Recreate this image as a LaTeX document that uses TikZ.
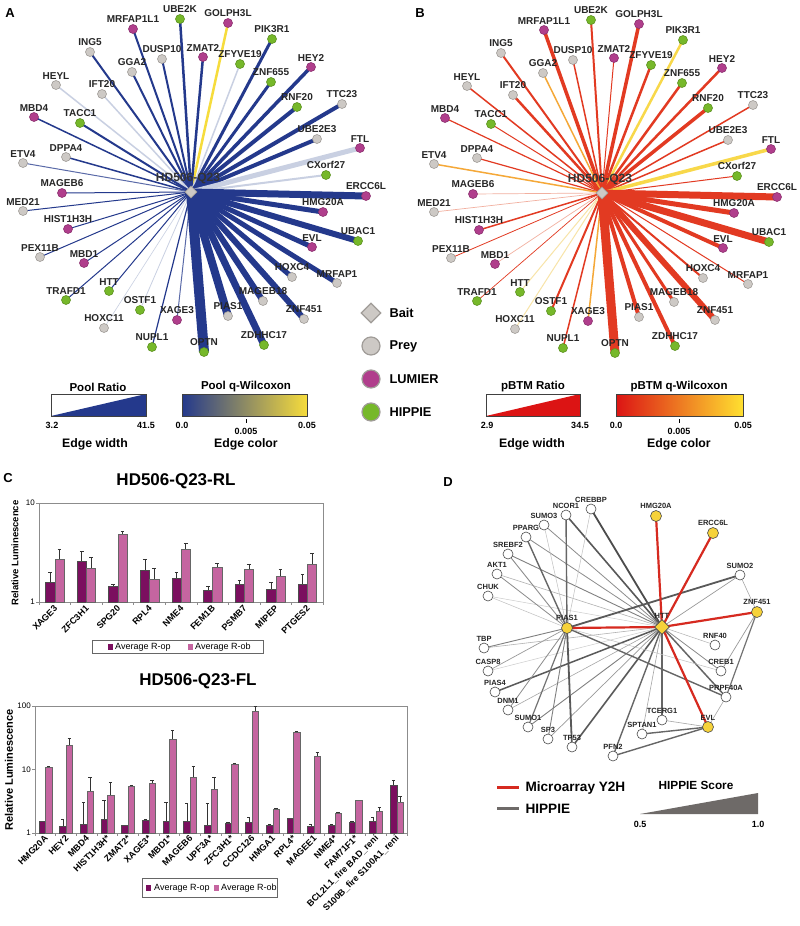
\documentclass[tikz,border=0pt]{standalone}
\usepackage{fontspec}
\setmainfont{Liberation Sans}
\usetikzlibrary{positioning,backgrounds,shapes.geometric}

\definecolor{ablue}{HTML}{24398C}
\definecolor{alight}{HTML}{C9D0E2}
\definecolor{amid}{HTML}{5A6AA8}
\definecolor{ayel}{HTML}{F6DC3C}
\definecolor{afade}{HTML}{DCE6EE}
\definecolor{bred}{HTML}{E23A22}
\definecolor{borng}{HTML}{F5A838}
\definecolor{byel}{HTML}{F8D84A}
\definecolor{bpale}{HTML}{F2B0A0}
\definecolor{byelp}{HTML}{F8E4A8}
\definecolor{gradred}{HTML}{DC1414}
\definecolor{gradorng}{HTML}{F59A10}
\definecolor{gradyel}{HTML}{FFE030}
\definecolor{preygrey}{HTML}{CDC9C5}
\definecolor{preyline}{HTML}{A09C98}
\definecolor{lumier}{HTML}{B03E8C}
\definecolor{hippie}{HTML}{76B82A}
\definecolor{opdark}{HTML}{7B0F5F}
\definecolor{obpink}{HTML}{C565A0}
\definecolor{dyellow}{HTML}{F6D23A}
\definecolor{y2hred}{HTML}{D62A20}
\definecolor{scoregrey}{HTML}{6E6A68}

\tikzset{
  nprey/.style={circle, draw=preyline, fill=preygrey, line width=0.6pt, minimum size=9pt, inner sep=0pt},
  nlum/.style={nprey, fill=lumier, draw=lumier!80!black},
  nhip/.style={nprey, fill=hippie, draw=hippie!80!black},
  nbait/.style={diamond, draw=preyline, fill=preygrey, line width=0.6pt, minimum size=12pt, inner sep=0pt},
  lbl/.style={font=\bfseries\fontsize{10}{11}\selectfont, text=black!85, inner sep=1pt},
  baitlbl/.style={font=\bfseries\fontsize{12}{13}\selectfont, text=black!80},
  panel/.style={font=\bfseries\fontsize{13}{14}\selectfont},
  legtxt/.style={font=\bfseries\fontsize{12.8}{14}\selectfont, anchor=west},
  cbtitle/.style={font=\bfseries\fontsize{11.5}{13}\selectfont},
  cbcap/.style={font=\bfseries\fontsize{12.3}{14}\selectfont},
  cbtick/.style={font=\bfseries\fontsize{9}{10}\selectfont, inner sep=1pt},
  cbframe/.style={draw=black!75, line width=0.7pt},
  ctitle/.style={font=\bfseries\fontsize{17}{19}\selectfont},
  chartframe/.style={draw=black!45, line width=0.6pt},
  ytitle/.style={font=\bfseries\fontsize{9.5}{11}\selectfont, rotate=90},
  yticklbl/.style={font=\fontsize{8}{9}\selectfont, anchor=east, inner sep=1pt},
  catlbl/.style={font=\bfseries\fontsize{9}{10}\selectfont, rotate=45, anchor=east, inner sep=0pt},
  barop/.style={fill=opdark, draw=black!70, line width=0.3pt},
  barob/.style={fill=obpink, draw=black!60, line width=0.3pt},
  errbar/.style={draw=black!80, line width=0.5pt},
  legbox/.style={draw=black!60, line width=0.5pt},
  legsmall/.style={font=\fontsize{9}{10}\selectfont, anchor=west, inner sep=0pt},
  dprey/.style={circle, draw=black!70, fill=white, line width=0.6pt, minimum size=10pt, inner sep=0pt},
  dhit/.style={circle, draw=black!70, fill=dyellow, line width=0.6pt, minimum size=11pt, inner sep=0pt},
  dhtt/.style={diamond, draw=black!70, fill=dyellow, line width=0.6pt, minimum size=15pt, inner sep=0pt},
  dlbl/.style={font=\bfseries\fontsize{7.5}{8}\selectfont, text=black!85, inner sep=1pt},
  y2hlink/.style={draw=y2hred, line width=2.2pt},
}

% name/x/y/type/pool width/pool colour/pBTM width/pBTM colour
\def\preylist{UBE2K/180/19/nhip/2.5/ablue/2/bred,
  GOLPH3L/228/23/nlum/2.5/ayel/3.5/bred,
  MRFAP1L1/133/29/nlum/2/ablue/3.5/bred,
  PIK3R1/272/39/nhip/3/ablue/2.5/byel,
  ING5/90/52/nprey/2/ablue/2/bred,
  DUSP10/162/59/nprey/2/ablue/1.5/bred,
  ZMAT2/203/57/nlum/2.5/ablue/1/bred,
  ZFYVE19/240/64/nhip/1.5/alight/2.5/bred,
  HEY2/311/67/nlum/3.5/ablue/2.5/bred,
  GGA2/132/72/nprey/2/ablue/1.5/borng,
  HEYL/56/85/nprey/1.5/alight/1.5/bred,
  IFT20/102/94/nprey/1.5/alight/2.5/bred,
  ZNF655/271/82/nhip/3/ablue/2.5/bred,
  RNF20/297/107/nhip/4/ablue/3.5/bred,
  TTC23/342/104/nprey/4/ablue/1.5/bred,
  MBD4/34/117/nlum/1.5/ablue/1.2/bred,
  TACC1/80/123/nhip/2/ablue/1/bred,
  UBE2E3/317/139/nprey/4/ablue/1.5/bred,
  FTL/360/148/nlum/5/alight/3.5/byel,
  DPPA4/66/157/nprey/1.5/ablue/1.2/bred,
  ETV4/23/163/nprey/1/amid/1.5/borng,
  CXorf27/326/175/nhip/2/alight/1/bred,
  MAGEB6/62/193/nlum/1/ablue/0.7/bpale,
  ERCC6L/366/196/nlum/7/ablue/7/bred,
  MED21/23/211/nprey/1/ablue/0.7/bpale,
  HMG20A/323/212/nlum/5/ablue/5/bred,
  HIST1H3H/68/229/nlum/1/ablue/1.5/bred,
  UBAC1/358/241/nhip/6/ablue/7/bred,
  EVL/312/247/nlum/5/ablue/4/bred,
  PEX11B/40/257/nprey/1/ablue/0.8/bred,
  MBD1/84/263/nlum/1/ablue/0.7/bpale,
  HOXC4/292/277/nprey/5/ablue/2/bred,
  MRFAP1/337/283/nprey/5/ablue/1/bred,
  HTT/109/291/nhip/1/ablue/1/byelp,
  TRAFD1/66/300/nhip/1/ablue/0.7/bred,
  MAGEB18/263/301/nprey/6/ablue/3/bred,
  OSTF1/140/310/nhip/0.8/alight/2/bred,
  XAGE3/177/320/nlum/1/amid/1.5/borng,
  PIAS1/228/316/nprey/8/ablue/4/bred,
  ZNF451/304/319/nprey/6/ablue/6/bred,
  HOXC11/104/328/nprey/0.6/alight/1/byelp,
  NUPL1/152/347/nhip/1.2/ablue/1.5/bred,
  OPTN/204/352/nhip/10/ablue/9/bred,
  ZDHHC17/264/345/nhip/7/ablue/4/bred}

\begin{document}
\begin{tikzpicture}[x=1pt,y=-1pt]
\useasboundingbox (0,0) rectangle (800,926);
\begin{scope}[on background layer]
  \fill[white] (0,0) rectangle (800,926);
\end{scope}

\node[panel] (pA) at (10,13) {A};
\node[panel] (pB) at (420,13) {B};
\node[panel] (pC) at (8,478) {C};
\node[panel] (pD) at (448,482) {D};

% ---- A: pool network
\node[nbait] (A-c) at (191,192) {};
\node[baitlbl] (A-t) at (188,178) {HD506-Q23};
\foreach \nm/\x/\y/\ty/\aw/\ac/\bw/\bc in \preylist {
  \node[\ty, label={[lbl]above:\nm}] (A-\nm) at (\x,\y) {};
}
\begin{scope}[on background layer]
\foreach \nm/\x/\y/\ty/\aw/\ac/\bw/\bc in \preylist {
  \draw[line width=\aw pt, draw=\ac] (A-c.center) -- (A-\nm.center);
}
\end{scope}

% ---- B: pBTM network
\begin{scope}[shift={(411,1)}]
\node[nbait] (B-c) at (191,192) {};
\node[baitlbl] (B-t) at (189,178) {HD506-Q23};
\foreach \nm/\x/\y/\ty/\aw/\ac/\bw/\bc in \preylist {
  \node[\ty, label={[lbl]above:\nm}] (B-\nm) at (\x,\y) {};
}
\begin{scope}[on background layer]
\foreach \nm/\x/\y/\ty/\aw/\ac/\bw/\bc in \preylist {
  \draw[line width=\bw pt, draw=\bc] (B-c.center) -- (B-\nm.center);
}
\end{scope}
\end{scope}

% node legend
\node[nbait, minimum size=20pt, line width=1.2pt] (lg-bait) at (371,313) {};
\node[nprey, minimum size=18pt, line width=1.2pt] (lg-prey) at (371,346) {};
\node[nprey, fill=lumier, minimum size=18pt, line width=1.2pt] (lg-lum) at (371,379) {};
\node[nprey, fill=hippie, minimum size=18pt, line width=1.2pt] (lg-hip) at (371,412) {};
\node[legtxt] (lg-t1) at (386,313) {Bait};
\node[legtxt] (lg-t2) at (386,346) {Prey};
\node[legtxt] (lg-t3) at (386,379) {LUMIER};
\node[legtxt] (lg-t4) at (386,412) {HIPPIE};

% edge legends A
\node[cbtitle] (A-rt) at (98,387) {Pool Ratio};
\fill[ablue] (51,416) -- (146,394) -- (146,416) -- cycle;
\draw[cbframe] (51,394) rectangle (146,416);
\node[cbtick] at (52,425) {3.2};
\node[cbtick] at (146,425) {41.5};
\node[cbcap] at (95,444) {Edge width};
\node[cbtitle] (A-qt) at (246,387) {Pool q-Wilcoxon};
\shade[left color=ablue, middle color=afade, right color=ayel] (182,394) rectangle (307,416);
\draw[cbframe] (182,394) rectangle (307,416);
\draw[line width=1pt] (246,419) -- (246,423);
\node[cbtick] at (182,425) {0.0};
\node[cbtick] at (246,431) {0.005};
\node[cbtick] at (307,425) {0.05};
\node[cbcap] at (246,444) {Edge color};

% edge legends B
\node[cbtitle] (B-rt) at (533,387) {pBTM Ratio};
\fill[gradred] (486,416) -- (580,394) -- (580,416) -- cycle;
\draw[cbframe] (486,394) rectangle (580,416);
\node[cbtick] at (487,425) {2.9};
\node[cbtick] at (580,425) {34.5};
\node[cbcap] at (532,444) {Edge width};
\node[cbtitle] (B-qt) at (679,387) {pBTM q-Wilcoxon};
\shade[left color=gradred, middle color=gradorng, right color=gradyel] (616,394) rectangle (743,416);
\draw[cbframe] (616,394) rectangle (743,416);
\draw[line width=1pt] (679,419) -- (679,423);
\node[cbtick] at (616,425) {0.0};
\node[cbtick] at (679,431) {0.005};
\node[cbtick] at (743,425) {0.05};
\node[cbcap] at (679,444) {Edge color};

% ---- C: RL chart
\node[ctitle] (c1t) at (176,481) {HD506-Q23-RL};
\draw[chartframe] (39,503) rectangle (323,602);
\foreach \k in {0,...,9} \draw[chartframe] ({39+31.56*\k},602) -- ++(0,3);
\draw[chartframe] (39,503) -- ++(-3,0) (39,602) -- ++(-3,0);
\node[yticklbl] (c1y10) at (36,503) {10};
\node[yticklbl] (c1y1) at (36,602) {1};
\node[ytitle] (c1yt) at (15,553) {Relative Luminescence};
\foreach \i/\g/\a/\ea/\b/\eb in {1/XAGE3/1.59/2.0/2.7/3.43, 2/ZFC3H1/2.58/3.22/2.2/2.83,
    3/SPG20/1.45/1.5/4.83/5.13, 4/RPL4/2.09/2.7/1.69/2.19, 5/NME4/1.75/2.0/3.4/3.92,
    6/FEM1B/1.33/1.45/2.26/2.46, 7/PSMB7/1.53/1.67/2.17/2.4, 8/MIPEP/1.36/1.58/1.83/2.14,
    9/PTGES2/1.53/1.92/2.44/3.1} {
  \pgfmathsetmacro\cx{39+31.56*(\i-0.5)}
  \pgfmathsetmacro\ya{602-99*log10(\a)}
  \pgfmathsetmacro\yea{602-99*log10(\ea)}
  \pgfmathsetmacro\yb{602-99*log10(\b)}
  \pgfmathsetmacro\yeb{602-99*log10(\eb)}
  \draw[errbar] ({\cx-4.65},\ya) -- ({\cx-4.65},\yea) ({\cx-6.5},\yea) -- ({\cx-2.8},\yea);
  \draw[errbar] ({\cx+4.65},\yb) -- ({\cx+4.65},\yeb) ({\cx+2.8},\yeb) -- ({\cx+6.5},\yeb);
  \draw[barop] ({\cx-9.3},602) rectangle (\cx,\ya);
  \draw[barob] (\cx,602) rectangle ({\cx+9.3},\yb);
  \node[catlbl] at ({\cx+1},607) {\g};
}
\draw[legbox] (92,640) rectangle (263,653);
\fill[opdark] (108,644) rectangle (113,650);
\node[legsmall] (c1l1) at (115,647) {Average R-op};
\fill[obpink] (188,644) rectangle (193,650);
\node[legsmall] (c1l2) at (195,647) {Average R-ob};

% ---- C: FL chart
\node[ctitle] (c2t) at (198,681) {HD506-Q23-FL};
\draw[chartframe] (35,706) rectangle (407,833);
\foreach \k in {0,...,18} \draw[chartframe] ({35+20.67*\k},833) -- ++(0,3);
\draw[chartframe] (35,706) -- ++(-3,0) (35,769.5) -- ++(-3,0) (35,833) -- ++(-3,0);
\node[yticklbl] (c2y100) at (32,706) {100};
\node[yticklbl] (c2y10) at (32,769.5) {10};
\node[yticklbl] (c2y1) at (32,833) {1};
\node[ytitle, font=\bfseries\fontsize{11}{12}\selectfont] (c2yt) at (9,770) {Relative Luminescence};
\foreach \i/\g/\a/\ea/\b/\eb in {1/HMG20A/1.53/1.55/11.0/11.2, 2/HEY2/1.29/1.65/23.8/31,
    3/MBD4/1.39/3.0/4.64/7.5, 4/HIST1H3H*/1.65/3.3/3.9/6.3, 5/ZMAT2*/1.31/1.32/5.57/5.6,
    6/XAGE3*/1.57/1.66/6.2/6.8, 7/MBD1*/1.53/3.0/29.6/41, 8/MAGEB6/1.53/2.9/7.7/11.2,
    9/UPF3A*/1.32/2.9/4.93/7.5, 10/ZFC3H1*/1.44/1.5/12.2/12.4, 11/CCDC126/1.46/1.75/83/100,
    12/HMGA1/1.31/1.36/2.35/2.45, 13/RPL4*/1.7/1.72/38.7/39.5, 14/MAGEE1/1.29/1.38/16.5/18.5,
    15/NME4*/1.32/1.38/2.02/2.1, 16/FAM71F1*/1.46/1.53/3.29/3.33,
    17/BCL2L1\_fire BAD\_reni/1.55/1.74/2.2/2.52, 18/S100B\_fire S100A1\_reni/5.67/6.8/3.05/3.75} {
  \pgfmathsetmacro\cx{35+20.67*(\i-0.5)}
  \pgfmathsetmacro\ya{833-63.5*log10(\a)}
  \pgfmathsetmacro\yea{833-63.5*log10(\ea)}
  \pgfmathsetmacro\yb{833-63.5*log10(\b)}
  \pgfmathsetmacro\yeb{833-63.5*log10(\eb)}
  \draw[errbar] ({\cx-3.25},\ya) -- ({\cx-3.25},\yea) ({\cx-4.9},\yea) -- ({\cx-1.6},\yea);
  \draw[errbar] ({\cx+3.25},\yb) -- ({\cx+3.25},\yeb) ({\cx+1.6},\yeb) -- ({\cx+4.9},\yeb);
  \draw[barop] ({\cx-6.5},833) rectangle (\cx,\ya);
  \draw[barob] (\cx,833) rectangle ({\cx+6.5},\yb);
  \node[catlbl] at ({\cx+1},837) {\g};
}
\draw[legbox, fill=white] (142,878) rectangle (277,897);
\fill[opdark] (146,885) rectangle (151,891);
\node[legsmall] (c2l1) at (154,888) {Average R-op};
\fill[obpink] (214,885) rectangle (219,891);
\node[legsmall] (c2l2) at (221,888) {Average R-ob};

% ---- D: HTT neighbourhood
\foreach \nm/\x/\y in {CREBBP/591/509, NCOR1/566/515, SUMO3/544/525, PPARG/526/537,
    SREBF2/508/554, AKT1/497/574, CHUK/488/596, SUMO2/740/575, RNF40/715/645,
    TBP/484/648, CASP8/488/671, CREB1/721/671, PIAS4/495/692, PRPF40A/726/697,
    DNM1/508/710, SUMO1/528/727, SP3/548/739, TP53/572/747, PFN2/613/756,
    SPTAN1/642/734, TCERG1/662/720} {
  \node[dprey, label={[dlbl]above:\nm}] (D-\nm) at (\x,\y) {};
}
\foreach \nm/\x/\y in {HMG20A/656/516, ERCC6L/713/533, ZNF451/757/612, PIAS1/567/628, EVL/708/727} {
  \node[dhit, label={[dlbl]above:\nm}] (D-\nm) at (\x,\y) {};
}
\node[dhtt, label={[dlbl]above:HTT}] (D-HTT) at (662,627) {};
\begin{scope}[on background layer]
\foreach \a/\b/\w/\g in {HTT/CREBBP/1.8/70, HTT/NCOR1/1.6/65, HTT/SUMO3/0.8/45, HTT/PPARG/0.8/45,
    HTT/SREBF2/0.9/50, HTT/AKT1/0.6/30, HTT/CHUK/0.5/20, HTT/SUMO2/0.7/40, HTT/TBP/0.6/30,
    HTT/CASP8/0.5/20, HTT/PIAS4/1.5/65, HTT/DNM1/0.6/35, HTT/SUMO1/0.9/50, HTT/SP3/0.7/40,
    HTT/TP53/1.6/65, HTT/PFN2/1.4/60, HTT/SPTAN1/0.6/35, HTT/TCERG1/1.6/60, HTT/RNF40/0.5/30,
    HTT/CREB1/0.8/45, HTT/PRPF40A/1.5/60,
    PIAS1/NCOR1/1.4/60, PIAS1/SUMO3/0.5/25, PIAS1/PPARG/1.4/60, PIAS1/SREBF2/0.9/45,
    PIAS1/AKT1/0.8/45, PIAS1/CHUK/0.5/25, PIAS1/SUMO2/1.8/65, PIAS1/TBP/0.9/50,
    PIAS1/CASP8/0.7/40, PIAS1/DNM1/0.8/45, PIAS1/SUMO1/1.2/55, PIAS1/SP3/0.9/50,
    PIAS1/TP53/1.8/65, PIAS1/PRPF40A/1.4/60, PIAS1/CREB1/0.5/25, PIAS1/CREBBP/0.5/25,
    ZNF451/SUMO2/0.6/35, ZNF451/CREB1/0.7/40, ZNF451/PRPF40A/1.2/55,
    EVL/SPTAN1/1.4/60, EVL/TCERG1/0.6/35, EVL/PFN2/1.4/60, EVL/PRPF40A/0.6/35} {
  \draw[line width=\w pt, draw=black!\g] (D-\a.center) -- (D-\b.center);
}
\foreach \b in {PIAS1, HMG20A, ERCC6L, ZNF451, EVL}
  \draw[y2hlink] (D-HTT.center) -- (D-\b.center);
\end{scope}

% D legend
\draw[y2hlink, line width=3pt] (497,787) -- (519,787);
\node[legtxt, font=\bfseries\fontsize{13.6}{15}\selectfont] (D-l1) at (522,788) {Microarray Y2H};
\draw[draw=scoregrey, line width=3pt] (497,808) -- (519,808);
\node[legtxt, font=\bfseries\fontsize{13.6}{15}\selectfont] (D-l2) at (522,809) {HIPPIE};
\node[font=\bfseries\fontsize{11.8}{13}\selectfont] (D-st) at (696,785) {HIPPIE Score};
\fill[scoregrey] (640,814) -- (758,793) -- (758,814) -- cycle;
\node[cbtick] at (640,824) {0.5};
\node[cbtick] at (758,824) {1.0};
\end{tikzpicture}
\end{document}
